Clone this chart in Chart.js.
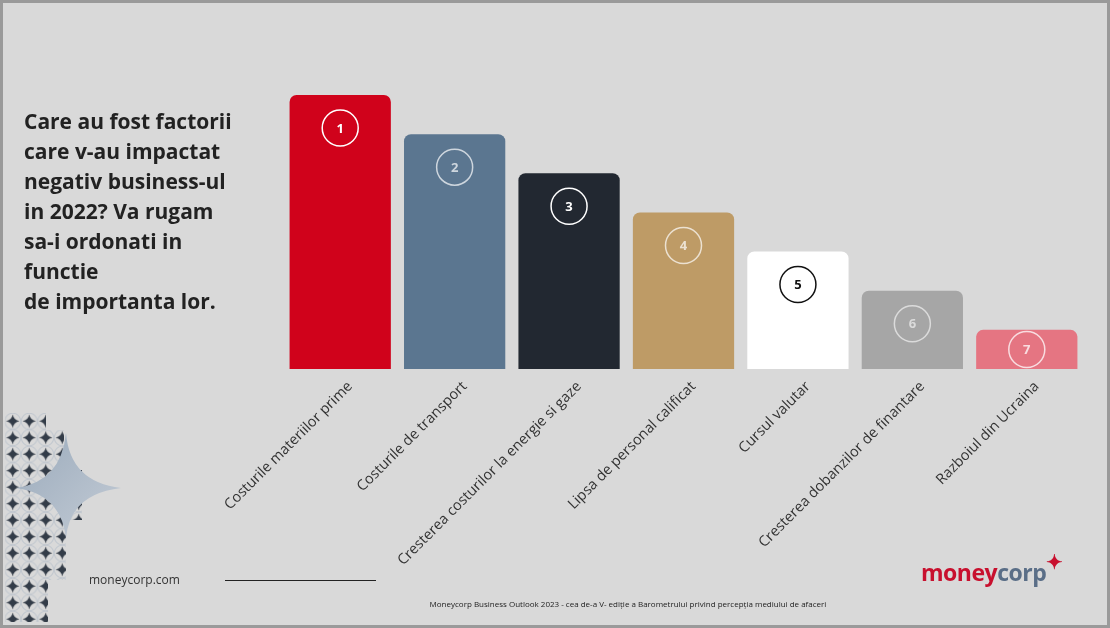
<!DOCTYPE html>
<html><head><meta charset="utf-8">
<script src="https://cdn.jsdelivr.net/npm/chart.js@4"></script>
<style>
html,body{margin:0;padding:0;}
body{width:1110px;height:628px;position:relative;overflow:hidden;background:#d9d9d9;font-family:"Open Sans",sans-serif;}
#frame{position:absolute;left:0;top:0;width:1104px;height:622px;border:3px solid #9a9a9a;}
#c{position:absolute;left:0;top:0;}
.q{position:absolute;left:24px;top:106px;font-size:21px;font-weight:bold;line-height:30px;color:#222;}
.site{position:absolute;left:89px;top:571px;font-size:12px;color:#333;}
.line{position:absolute;left:225px;top:580px;width:151px;height:1px;background:#222;}
.foot{position:absolute;left:0;width:1256px;top:598px;text-align:center;font-size:8px;color:#222;}
.logo{position:absolute;left:921px;top:556px;font-size:23px;font-weight:bold;color:#c8102e;letter-spacing:-0.5px;}
.logo span{color:#5a6e87;}
</style></head><body>
<div id="frame"></div>
<svg style="position:absolute;left:0;top:0" width="1110" height="628">
<defs>
<pattern id="p" x="4.5" y="413" width="16.5" height="16.5" patternUnits="userSpaceOnUse">
<circle cx="8.25" cy="8.25" r="8" fill="none" stroke="#c2c8cf" stroke-width="1"/>
<path d="M8.25 1.5 Q9.3 7.2 15 8.25 Q9.3 9.3 8.25 15 Q7.2 9.3 1.5 8.25 Q7.2 7.2 8.25 1.5Z" fill="#333c48"/>
</pattern>
<linearGradient id="g" x1="0" y1="0" x2="1" y2="1"><stop offset="0" stop-color="#9aaabb"/><stop offset="1" stop-color="#c4ccd6"/></linearGradient>
</defs>
<path d="M5 413 H46 V430 H64 V470 H82 V520 H66 V580 H48 V622 H5Z" fill="url(#p)"/>
<path d="M66 433 Q70 482 121 488 Q70 494 66 538 Q61 494 16 488 Q61 482 66 433Z" fill="url(#g)"/>
</svg>
<canvas id="c" width="1110" height="628"></canvas>
<div class="q">Care au fost factorii<br>care v-au impactat<br>negativ business-ul<br>in 2022? Va rugam<br>sa-i ordonati in<br>functie<br>de importanta lor.</div>
<div class="site">moneycorp.com</div>
<div class="line"></div>
<div class="foot">Moneycorp Business Outlook 2023 - cea de-a V- ediție a Barometrului privind percepția mediului de afaceri</div>
<div class="logo">money<span>corp</span><span style="color:#c8102e;font-size:20px;position:relative;top:-12px;">✦</span></div>
<script>
const categories=["Costurile materiilor prime","Costurile de transport","Cresterea costurilor la energie si gaze","Lipsa de personal calificat","Cursul valutar","Cresterea dobanzilor de finantare","Razboiul din Ucraina"];
const values=[7,6,5,4,3,2,1];
const ranks=["1","2","3","4","5","6","7"];
const colors=["#d0021b","#5b7690","#222831","#be9b66","#ffffff","#a6a6a6","#e57582"];
const ringColors=["#ffffff","rgba(255,255,255,0.7)","#ffffff","rgba(255,255,255,0.7)","#111111","rgba(255,255,255,0.6)","rgba(255,255,255,0.75)"];
const rankPlugin={id:'rank',afterDatasetsDraw(chart){
 const ctx=chart.ctx;const meta=chart.getDatasetMeta(0);
 meta.data.forEach((b,i)=>{const cx=b.x,cy=Math.min(b.y+33,(b.y+b.base)/2);
  ctx.save();ctx.beginPath();ctx.arc(cx,cy,18,0,Math.PI*2);ctx.lineWidth=1.5;ctx.strokeStyle=ringColors[i];ctx.stroke();
  ctx.fillStyle=ringColors[i];ctx.font='bold 13px "Open Sans"';ctx.textAlign='center';ctx.textBaseline='middle';ctx.fillText(ranks[i],cx,cy+1);ctx.restore();});
}};
new Chart(document.getElementById('c'),{type:'bar',
 data:{labels:categories,datasets:[{data:values,backgroundColor:colors,borderRadius:{topLeft:7,topRight:7},borderSkipped:'bottom',barPercentage:0.885,categoryPercentage:1}]},
 options:{responsive:false,animation:false,
  layout:{padding:{left:283,right:26,top:95,bottom:0}},
  plugins:{legend:{display:false},tooltip:{enabled:false}},
  scales:{y:{display:false,min:0,max:7},
   x:{grid:{display:false},border:{display:false},ticks:{color:'#333',font:{size:14.5,family:'Open Sans'},minRotation:45,maxRotation:45,padding:1,labelOffset:10},
    afterFit(s){s.height=259;}}}},
 plugins:[rankPlugin]});
</script>
</body></html>
